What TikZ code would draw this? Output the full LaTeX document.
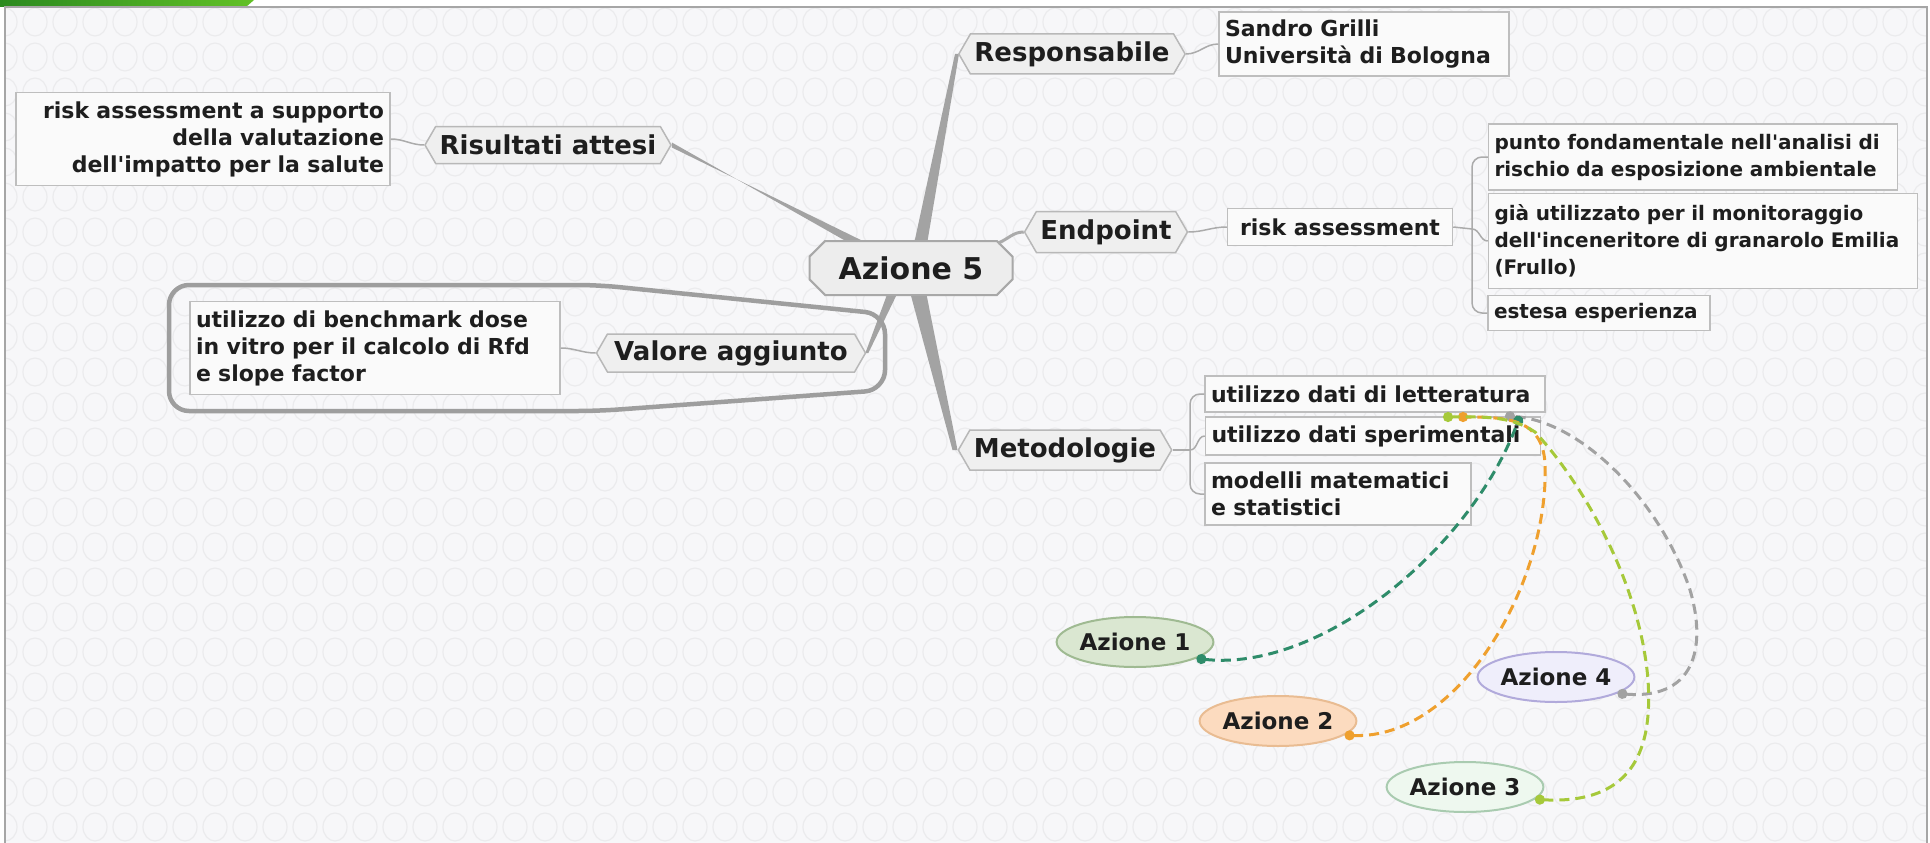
\documentclass[tikz,border=0pt]{standalone}
\usepackage{fontspec}
\setmainfont{DejaVu Sans}
\usetikzlibrary{shapes.symbols,shapes.misc,shapes.geometric,arrows.meta,calc,backgrounds}

\definecolor{fon}{HTML}{F7F7F9}
\definecolor{ringcol}{HTML}{EBEBED}
\definecolor{framecol}{HTML}{A6A6A6}
\definecolor{ink}{HTML}{1E1E1E}
\definecolor{topicfill}{HTML}{EFEFEF}
\definecolor{topicline}{HTML}{B8B8B8}
\definecolor{rootfill}{HTML}{EDEDED}
\definecolor{rootline}{HTML}{A8A8A8}
\definecolor{boxfill}{HTML}{FAFAFA}
\definecolor{boxline}{HTML}{BEBEBE}
\definecolor{branchcol}{HTML}{A3A3A3}
\definecolor{twigcol}{HTML}{ABABAB}
\definecolor{groupcol}{HTML}{9E9E9E}
\definecolor{bandleft}{HTML}{2B8A1F}
\definecolor{bandright}{HTML}{62C126}
\definecolor{tealcol}{HTML}{2E8C6A}
\definecolor{orangecol}{HTML}{EFA02E}
\definecolor{limecol}{HTML}{A6C93A}
\definecolor{greycol}{HTML}{A2A2A2}
\definecolor{azfillA}{HTML}{DAE7D1}
\definecolor{azlineA}{HTML}{9FBA92}
\definecolor{azfillB}{HTML}{FCDBBF}
\definecolor{azlineB}{HTML}{E9BC92}
\definecolor{azfillC}{HTML}{EEF8EF}
\definecolor{azlineC}{HTML}{A9CBB0}
\definecolor{azfillD}{HTML}{EFEEFB}
\definecolor{azlineD}{HTML}{B1AADB}

\begin{document}
\begin{tikzpicture}[ x = 1pt, y = -1pt,
		topic/.style = { signal, signal to = east and west, signal pointer angle = 120, draw = topicline, fill = topicfill, line width = 1.5pt, text = ink, font = \fontsize{26}{30}\selectfont\bfseries, inner xsep = 4pt, inner ysep = 2pt },
		root/.style = { chamfered rectangle, chamfered rectangle xsep = 12pt, draw = rootline, fill = rootfill, line width = 2pt, text = ink, font = \fontsize{30}{34}\selectfont\bfseries, minimum width = 203pt, minimum height = 54pt },
		box/.style = { rectangle, draw = boxline, fill = boxfill, line width = 1.5pt, text = ink, font = \fontsize{22}{27}\selectfont\bfseries, inner xsep = 6pt, inner ysep = 3pt },
		smallbox/.style = { box, font = \fontsize{20}{27}\selectfont\bfseries },
		azione/.style = { ellipse, line width = 2pt, text = ink, font = \fontsize{23}{26}\selectfont\bfseries, minimum width = 145pt, minimum height = 50pt, inner sep = 0pt },
		twig/.style = { draw = twigcol, line width = 1.5pt },
		branch/.style = { fill = branchcol },
		rel/.style = { line width = 3pt, dash pattern = on 10pt off 6pt, {Circle[length=10pt]}-{Circle[length=10pt]} },
		ring/.style = { draw = ringcol, line width = 1.2pt }
	]
		\useasboundingbox ( 0, 0 ) rectangle ( 1930, 843 );

		% фон
		\begin{scope}[ on background layer ]
			\fill [ white ] ( 0, 0 ) rectangle ( 1930, 843 );
			\fill [ fon ] ( 5, 7 ) rectangle ( 1927, 843 );
			\clip ( 5, 7 ) rectangle ( 1927, 843 );
			\foreach \i in { 0, ..., 64 }
				\foreach \j in { 0, ..., 24 }
					\draw [ ring ] ( 5 + 30 * \i, 22 + 35 * \j ) ellipse [ x radius = 12, y radius = 14 ];
		\end{scope}
		\shade [ left color = bandleft, right color = bandright ] ( 0, 0 ) -- ( 254, 0 ) -- ( 246, 7 ) -- ( 0, 7 ) -- cycle;
		\draw [ framecol, line width = 1.5pt ] ( 5, 843 ) -- ( 5, 7 ) -- ( 1927, 7 ) -- ( 1927, 843 );

		% центр
		\node [ root ] (az5) at ( 911, 268 ) {Azione 5};

		% Risultati attesi
		\node [ topic, minimum width = 246pt, minimum height = 37pt ] (ris) at ( 548, 145 ) {Risultati attesi};
		\node [ box, text width = 362pt, align = right, minimum height = 93pt ] (rsk) at ( 203, 139 ) {risk assessment a supporto\\della valutazione\\dell\textquotesingle impatto per la salute};
		\draw [ twig ] (ris.west) to [ out = 180, in = 0 ] (rsk.east);

		% Responsabile
		\node [ topic, minimum width = 224pt, minimum height = 40pt ] (resp) at ( 1072, 54 ) {Responsabile};
		\node [ box, text width = 278pt, align = left, minimum height = 64pt ] (sand) at ( 1364, 44 ) {Sandro Grilli\\Università di Bologna};
		\draw [ twig ] (resp.east) to [ out = 0, in = 180 ] (sand.west);

		% Endpoint
		\node [ topic, minimum width = 162pt, minimum height = 41pt ] (endp) at ( 1106, 232 ) {Endpoint};
		\node [ box, minimum width = 225pt, minimum height = 37pt ] (rska) at ( 1340, 227 ) {risk assessment};
		\node [ smallbox, text width = 397pt, align = left, minimum height = 66pt ] (punto) at ( 1693, 157 ) {punto fondamentale nell\textquotesingle analisi di\\rischio da esposizione ambientale};
		\node [ smallbox, text width = 417pt, align = left, minimum height = 95pt ] (gia) at ( 1703, 241 ) {già utilizzato per il monitoraggio\\dell\textquotesingle inceneritore di granarolo Emilia\\(Frullo)};
		\node [ smallbox, text width = 210pt, align = left, minimum height = 35pt ] (estesa) at ( 1599, 313 ) {estesa esperienza};
		\draw [ twig, line width = 3pt ] ( 998, 243 ) to [ out = 20, in = 180 ] (endp.west);
		\draw [ twig ] (endp.east) to [ out = 0, in = 180 ] (rska.west);
		\coordinate (ej) at ( 1472, 229 );
		\draw [ twig ] (rska.east) -- (ej);
		\draw [ twig, rounded corners = 10pt ] (ej) |- (punto.west);
		\draw [ twig ] (ej) to [ out = 0, in = 180 ] (gia.west);
		\draw [ twig, rounded corners = 10pt ] (ej) |- (estesa.west);

		% Valore aggiunto
		\draw [ groupcol, line width = 4.5pt, rounded corners = 20pt ] ( 169, 348 ) -- ( 169, 285 ) -- ( 598, 285 ) -- ( 885, 314 ) -- ( 885, 390 ) -- ( 598, 411 ) -- ( 169, 411 ) -- cycle;
		\node [ topic, minimum width = 269pt, minimum height = 38pt ] (val) at ( 731, 353 ) {Valore aggiunto};
		\node [ box, text width = 358pt, align = left, minimum height = 93pt ] (bench) at ( 375, 348 ) {utilizzo di benchmark dose\\in vitro per il calcolo di Rfd\\e slope factor};
		\draw [ twig ] (val.west) to [ out = 180, in = 0 ] (bench.east);

		% Metodologie
		\node [ topic, minimum width = 212pt, minimum height = 40pt ] (met) at ( 1065, 450 ) {Metodologie};
		\node [ box, text width = 328pt, align = left, minimum height = 36pt ] (lett) at ( 1375, 394 ) {utilizzo dati di letteratura};
		\node [ box, text width = 323pt, align = left, minimum height = 38pt ] (sper) at ( 1373, 436 ) {utilizzo dati sperimentali};
		\node [ box, text width = 254pt, align = left, minimum height = 62pt ] (mod) at ( 1338, 494 ) {modelli matematici\\e statistici};
		\coordinate (mj) at ( 1190, 450 );
		\draw [ twig ] (met.east) -- (mj);
		\draw [ twig, rounded corners = 10pt ] (mj) |- (lett.west);
		\draw [ twig ] (mj) to [ out = 0, in = 180 ] (sper.west);
		\draw [ twig, rounded corners = 10pt ] (mj) |- (mod.west);

		% ветви от центра
		\begin{scope}[ on background layer ]
			\fill [ branch ] ( 851, 244 ) -- ($(ris.east) + (0,-2.5)$) -- ($(ris.east) + (0,2.5)$) -- ( 869, 244 ) -- cycle;
			\fill [ branch ] ( 914, 244 ) -- ($(resp.west) + (-3,0)$) -- ($(resp.west) + (1,0)$) -- ( 927, 244 ) -- cycle;
			\fill [ branch ] ( 910, 292 ) -- ($(met.west) + (-5,0)$) -- (met.west) -- ( 926, 292 ) -- cycle;
			\fill [ branch ] ( 888, 292 ) -- ($(val.east) + (-1,0)$) -- ($(val.east) + (2,0)$) -- ( 898, 292 ) -- cycle;
		\end{scope}

		% Azione 1--4
		\node [ azione, fill = azfillA, draw = azlineA ] (az1) at ( 1135, 642 ) {Azione 1};
		\node [ azione, fill = azfillB, draw = azlineB ] (az2) at ( 1278, 721 ) {Azione 2};
		\node [ azione, fill = azfillC, draw = azlineC ] (az3) at ( 1465, 787 ) {Azione 3};
		\node [ azione, fill = azfillD, draw = azlineD ] (az4) at ( 1556, 677 ) {Azione 4};

		% связи
		\coordinate (r1) at ( 1520, 416 );
		\coordinate (r2) at ( 1458, 417 );
		\coordinate (r3) at ( 1443, 417 );
		\coordinate (r4) at ( 1505, 416 );
		\draw [ rel, greycol ] (az4.-15) .. controls ( 1700, 700 ) and ( 1705, 640 ) .. ( 1690, 590 ) .. controls ( 1660, 500 ) and ( 1580, 420 ) .. (r4);
		\draw [ rel, tealcol ] (az1.-15) .. controls ( 1320, 672 ) and ( 1470, 550 ) .. (r1);
		\draw [ rel, orangecol ] (az2.-12) .. controls ( 1460, 740 ) and ( 1550, 580 ) .. ( 1545, 463 ) .. controls ( 1542, 420 ) and ( 1510, 417 ) .. (r2);
		\draw [ rel, limecol ] (az3.-10) .. controls ( 1640, 805 ) and ( 1652, 740 ) .. ( 1648, 680 ) .. controls ( 1640, 580 ) and ( 1580, 480 ) .. ( 1535, 432 ) .. controls ( 1510, 415 ) and ( 1480, 417 ) .. (r3);
	\end{tikzpicture}
\end{document}
